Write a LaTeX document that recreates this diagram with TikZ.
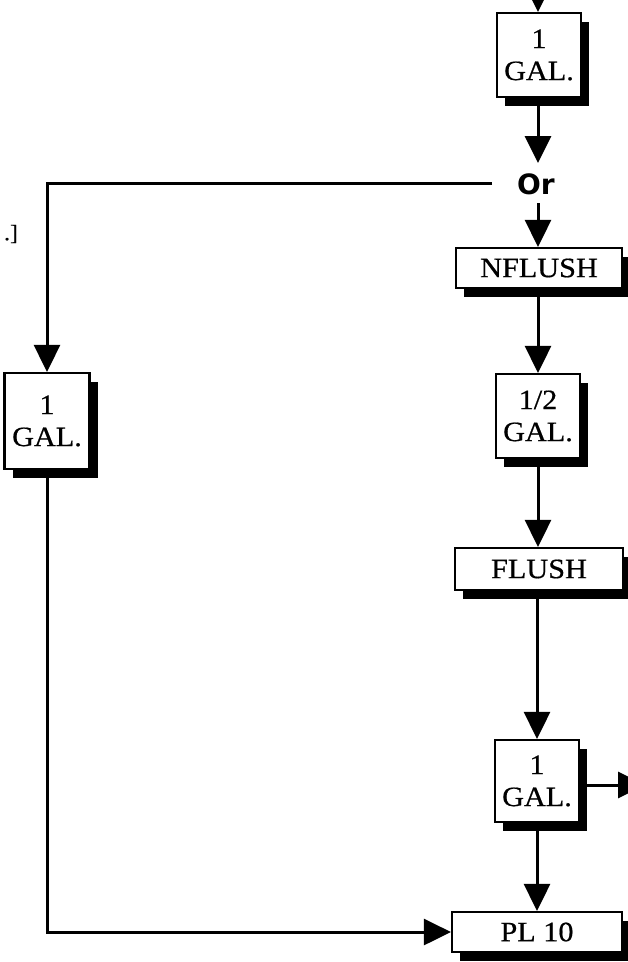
\documentclass[tikz,border=0pt]{standalone}
\usepackage{fontspec}
\setmainfont[FakeStretch=1.08,FakeBold=0.6]{Liberation Serif}
\newfontfamily\orfont{DejaVu Sans}
\usetikzlibrary{arrows.meta,shadows}
\begin{document}
\begin{tikzpicture}[x=1pt,y=-1pt,
  box/.style={draw=black, line width=2.2pt, fill=white, inner sep=0pt,
    drop shadow={shadow xshift=8pt, shadow yshift=-9pt, fill=black, opacity=1},
    font=\fontsize{28}{32}\selectfont, align=center},
  conn/.style={line width=3pt, -{Triangle[length=27pt,width=26pt]}}]
\useasboundingbox (0,0) rectangle (628,962);
\fill[white] (0,0) rectangle (628,962);
% boxes
\node[box, minimum width=84pt, minimum height=84pt] (g1) at (539,55) {1\\GAL.};
\node[font=\orfont\bfseries\fontsize{28}{28}\selectfont, inner sep=0pt] (or) at (536,184) {Or};
\node[box, minimum width=166pt, minimum height=40pt] (nf) at (539,268) {NFLUSH};
\node[box, minimum width=84pt, minimum height=84pt] (g2) at (538,416) {1/2\\GAL.};
\node[box, minimum width=168pt, minimum height=42pt] (fl) at (539,569) {FLUSH};
\node[box, minimum width=84pt, minimum height=82pt] (g3) at (537,781) {1\\GAL.};
\node[box, minimum width=170pt, minimum height=40pt] (pl) at (537,932) {PL 10};
\node[box, minimum width=85pt, minimum height=96pt] (gl) at (47,421) {1\\GAL.};
\node[font=\fontsize{22}{22}\selectfont, inner sep=0pt] (dot) at (11,234) {.]};
% free ends
\coordinate (top) at (538,0);
\coordinate (orin) at (538,163);
\coordinate (orout) at (538,203);
\coordinate (orleft) at (492,183);
\coordinate (out) at (645,785);
% connectors
\draw[conn] (top) -- (g1.north -| top);
\draw[conn] (g1.south -| top) -- (orin);
\draw[conn] (orout) -- (nf.north -| orout);
\draw[conn] (orleft) -| (gl.north);
\draw[conn] (nf.south -| g2.north) -- (g2.north);
\draw[conn] (g2.south) -- (fl.north -| g2.south);
\draw[conn] (fl.south -| g3.north) -- (g3.north);
\draw[conn] (g3.south) -- (pl.north -| g3.south);
\draw[conn] ([yshift=-4pt]g3.east) -- (out);
\draw[conn] (gl.south) |- (pl.west);
\end{tikzpicture}
\end{document}
